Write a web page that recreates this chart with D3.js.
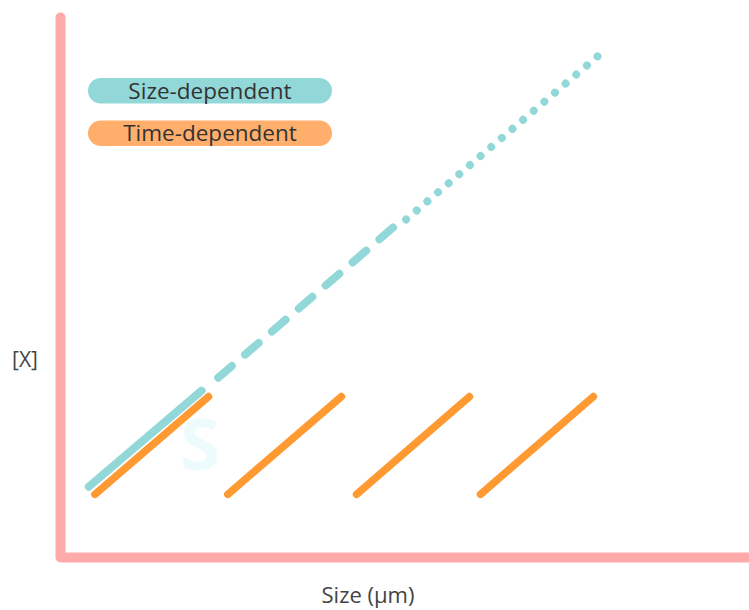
<!DOCTYPE html>
<html>
<head>
<meta charset="utf-8">
<script src="https://cdn.jsdelivr.net/npm/d3@7"></script>
<style>
  html, body { margin: 0; padding: 0; background: #fff; }
  svg { display: block; font-family: "Open Sans", sans-serif; }
</style>
</head>
<body>
<svg id="chart"></svg>
<script>
// series values, [size, x] in arbitrary units
const sizeSolid = [[4.1, 13.1], [20.5, 30.9]];
const sizeDashed = [[22.9, 33.3], [48.3, 61.1]];
const sizeDotted = [[50.2, 62.6], [78.0, 92.8]];

const timeSegments = [
    [[5.0, 11.7], [21.5, 29.8]],
    [[24.3, 11.7], [40.8, 29.8]],
    [[43.0, 11.7], [59.4, 29.8]],
    [[61.0, 11.7], [77.4, 29.8]]
];

const legendLabels = ["Size-dependent", "Time-dependent"];
const xLabel = "Size (μm)";
const yLabel = "[X]";

const width = 749,
    height = 610;

const teal = "#93d8d8",
    orange = "#ff9a33";

const svg = d3.select("#chart")
    .attr("width", width)
    .attr("height", height)
    .attr("viewBox", [0, 0, width, height]);

const x = d3.scaleLinear().domain([0, 100]).range([60.5, 749]);
const y = d3.scaleLinear().domain([0, 100]).range([557.5, 17.5]);

const line = d3.line()
    .x(d => x(d[0]))
    .y(d => y(d[1]));

// faint watermark letter
svg.append("text")
    .attr("x", 200)
    .attr("y", 470)
    .attr("text-anchor", "middle")
    .attr("font-size", 72)
    .attr("font-weight", 700)
    .attr("fill", "#eefbfc")
    .text("S");

// axes drawn as a single thick L
svg.append("path")
    .attr("d", line([[0, 100], [0, 0], [100, 0]]))
    .attr("fill", "none")
    .attr("stroke", "#ffaaaa")
    .attr("stroke-width", 10)
    .attr("stroke-linecap", "round")
    .attr("stroke-linejoin", "round");

// time-dependent segments
svg.append("g")
    .attr("fill", "none")
    .attr("stroke", orange)
    .attr("stroke-width", 7.5)
    .attr("stroke-linecap", "round")
    .selectAll("path")
    .data(timeSegments)
    .join("path")
    .attr("d", line);

// size-dependent line: solid, dashed (7 dashes), dotted (19 dots)
const sizeParts = [
    { pts: sizeSolid, dash: 0, count: 0 },
    { pts: sizeDashed, dash: 18, count: 7 },
    { pts: sizeDotted, dash: 0.01, count: 19 }
];

svg.append("g")
    .attr("fill", "none")
    .attr("stroke", teal)
    .attr("stroke-width", 8)
    .attr("stroke-linecap", "round")
    .selectAll("path")
    .data(sizeParts)
    .join("path")
    .attr("d", d => line(d.pts))
    .attr("stroke-dasharray", function(d) {
        if (!d.count) return null;
        const len = this.getTotalLength();
        const period = (len - d.dash) / (d.count - 1);
        return `${d.dash},${period - d.dash}`;
    });

// legend pills
const legendColors = [teal, "#ffae6c"];
const legend = svg.append("g")
    .selectAll("g")
    .data(legendLabels)
    .join("g")
    .attr("transform", (d, i) => `translate(88,${78 + i * 42.5})`);

legend.append("rect")
    .attr("width", 244)
    .attr("height", 25.5)
    .attr("rx", 12.75)
    .attr("fill", (d, i) => legendColors[i]);

legend.append("text")
    .attr("x", 122)
    .attr("y", 20.5)
    .attr("text-anchor", "middle")
    .attr("font-size", 22.5)
    .attr("fill", "#333")
    .text(d => d);

// axis labels
svg.append("text")
    .attr("x", 25)
    .attr("y", 367)
    .attr("text-anchor", "middle")
    .attr("font-size", 21)
    .attr("fill", "#444")
    .text(yLabel);

svg.append("text")
    .attr("x", 368)
    .attr("y", 603)
    .attr("text-anchor", "middle")
    .attr("font-size", 22)
    .attr("fill", "#444")
    .text(xLabel);
</script>
</body>
</html>
